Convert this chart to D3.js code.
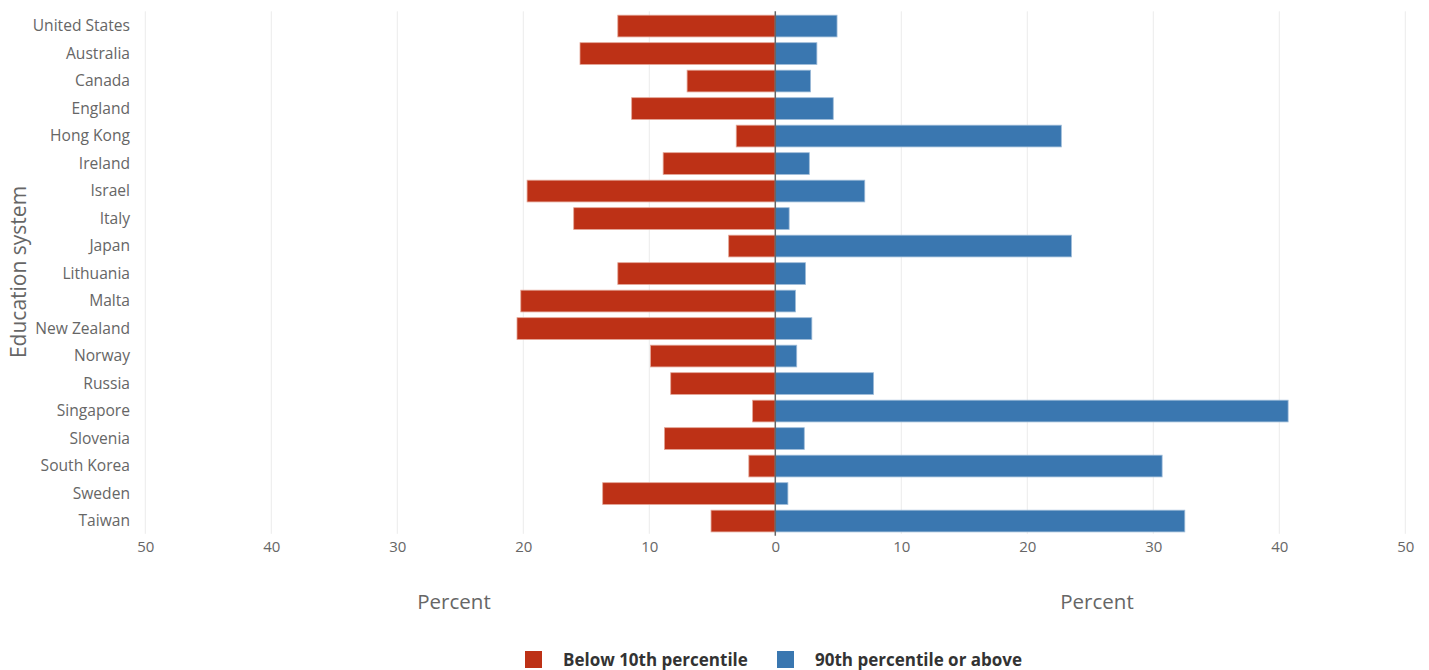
<!DOCTYPE html>
<html><head><meta charset="utf-8">
<script src="https://cdn.jsdelivr.net/npm/d3@7"></script>
<style>
body{margin:0;background:#fff;font-family:"Open Sans",sans-serif;}
svg{display:block}
</style></head><body>
<svg id="chart" width="1429" height="670"></svg>
<script>
const categories = ["United States","Australia","Canada","England","Hong Kong","Ireland","Israel","Italy","Japan","Lithuania","Malta","New Zealand","Norway","Russia","Singapore","Slovenia","South Korea","Sweden","Taiwan"];
const below10 = [12.5,15.5,7.0,11.4,3.1,8.9,19.7,16.0,3.7,12.5,20.2,20.5,9.9,8.3,1.8,8.8,2.1,13.7,5.1];
const above90 = [4.9,3.3,2.8,4.6,22.7,2.7,7.1,1.1,23.5,2.4,1.6,2.9,1.7,7.8,40.7,2.3,30.7,1.0,32.5];
const tickValues = [-50,-40,-30,-20,-10,0,10,20,30,40,50];
const seriesNames = ["Below 10th percentile","90th percentile or above"];
const colors = ["#bd3116","#3a77b0"];

const svg = d3.select("#chart");
const pL = 145.3, pR = 1405.3, pT = 12.3, pB = 534.8;
const x = d3.scaleLinear().domain([-50,50]).range([pL,pR]);
const y = d3.scaleBand().domain(categories).range([pT,pB]).paddingInner(0.21).paddingOuter(0.105);

// gridlines
svg.append("g").selectAll("line").data(tickValues.filter(d=>d!==0)).join("line")
  .attr("x1",d=>x(d)).attr("x2",d=>x(d)).attr("y1",pT-1).attr("y2",pB-1)
  .attr("stroke","#ebebeb").attr("stroke-width",1);

// bars
const rows = categories.map((c,i)=>({c, b:below10[i], a:above90[i]}));
svg.append("g").selectAll("rect").data(rows).join("rect")
  .attr("x",d=>x(-d.b)).attr("width",d=>x(0)-x(-d.b))
  .attr("y",d=>y(d.c)).attr("height",y.bandwidth())
  .attr("fill",colors[0]).attr("stroke","#e3a494").attr("stroke-width",0.8);
svg.append("g").selectAll("rect").data(rows).join("rect")
  .attr("x",x(0)).attr("width",d=>x(d.a)-x(0))
  .attr("y",d=>y(d.c)).attr("height",y.bandwidth())
  .attr("fill",colors[1]).attr("stroke","#9dbbd8").attr("stroke-width",0.8);

// zero line
svg.append("line").attr("x1",x(0)).attr("x2",x(0)).attr("y1",pT-1).attr("y2",pB+1)
  .attr("stroke","#666").attr("stroke-width",1.5);

// x axis
const xAxis = d3.axisBottom(x).tickValues(tickValues).tickFormat(d=>Math.abs(d)).tickSize(0).tickPadding(7);
const gx = svg.append("g").attr("transform",`translate(0,${pB})`).call(xAxis);
gx.select(".domain").remove();
gx.selectAll("text").attr("font-family","Open Sans").attr("font-size",15).attr("fill","#666");

// y axis
const yAxis = d3.axisLeft(y).tickSize(0).tickPadding(0);
const gy = svg.append("g").attr("transform",`translate(130,0)`).call(yAxis);
gy.select(".domain").remove();
gy.selectAll("text").attr("font-family","Open Sans").attr("font-size",15.6).attr("fill","#666");

// axis titles
svg.append("text").attr("x",454).attr("y",609).attr("text-anchor","middle")
  .attr("font-size",20.5).attr("fill","#666").text("Percent");
svg.append("text").attr("x",1097).attr("y",609).attr("text-anchor","middle")
  .attr("font-size",20.5).attr("fill","#666").text("Percent");
svg.append("text").attr("transform","translate(26,272) rotate(-90)").attr("text-anchor","middle")
  .attr("font-size",21).attr("fill","#666").text("Education system");

// legend
const legX = [525,777];
const lg = svg.append("g");
seriesNames.forEach((n,i)=>{
  lg.append("rect").attr("x",legX[i]).attr("y",651).attr("width",17).attr("height",17).attr("fill",colors[i]);
  lg.append("text").attr("x",legX[i]+38).attr("y",666).attr("font-size",17).attr("font-weight",700)
    .attr("fill","#333").text(n);
});
</script>
</body></html>
